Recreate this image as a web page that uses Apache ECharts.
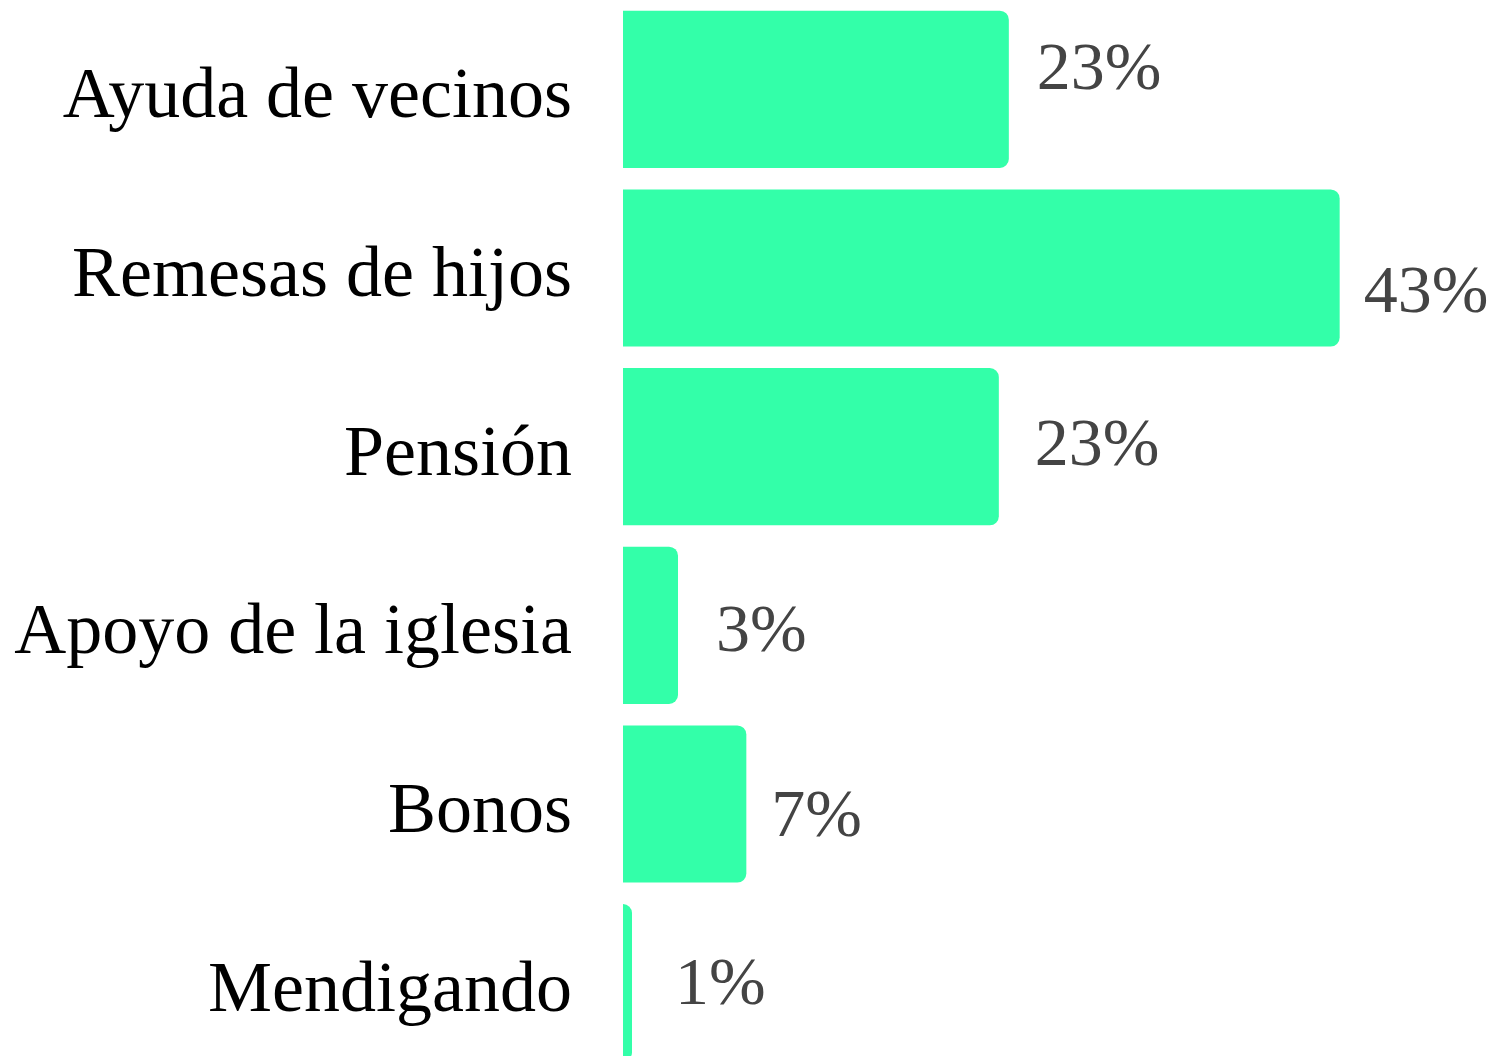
<!DOCTYPE html>
<html>
<head>
<meta charset="utf-8">
<script src="https://cdn.jsdelivr.net/npm/echarts@6/dist/echarts.min.js"></script>
<style>
  html, body { margin: 0; padding: 0; background: #fff; }
  #chart { width: 1499px; height: 1056px; }
</style>
</head>
<body>
<div id="chart"></div>
<script>
// Fuentes de ingreso (porcentaje de respuestas)
const categories = ['Ayuda de vecinos', 'Remesas de hijos', 'Pensión', 'Apoyo de la iglesia', 'Bonos', 'Mendigando'];
const shares = [23.15, 43, 22.55, 3.3, 7.4, 0.54];

// hand-placed nudges for the value labels [dx, dy]
const labelNudge = [[23, -18], [19, 26], [31, 0], [33, 8], [20, 14], [38, 3]];

const chart = echarts.init(document.getElementById('chart'), null, { renderer: 'canvas' });

chart.setOption({
  animation: false,
  backgroundColor: '#ffffff',
  grid: {
    left: 623, top: 0, width: 875, height: 1072,
    containLabel: false,
    outerBoundsMode: 'none'
  },
  xAxis: {
    type: 'value',
    min: 0,
    max: 52.5,
    show: false
  },
  yAxis: {
    type: 'category',
    data: categories,
    inverse: true,
    axisLine: { show: false },
    axisTick: { show: false },
    splitLine: { show: false },
    axisLabel: {
      margin: 51,
      formatter: v => '{cat|' + v + '}',
      rich: {
        cat: {
          color: '#000000',
          fontFamily: 'Liberation Serif',
          fontSize: 72,
          lineHeight: 90,
          verticalAlign: 'bottom'
        }
      }
    }
  },
  series: [{
    type: 'bar',
    data: shares.map((v, i) => ({
      value: v,
      label: { offset: labelNudge[i] }
    })),
    barCategoryGap: '12%',
    itemStyle: { color: '#33ffa9', borderRadius: [0, 9, 9, 0] },
    label: {
      show: true,
      position: 'right',
      distance: 5,
      color: '#444444',
      fontFamily: 'Liberation Serif',
      fontSize: 68,
      formatter: p => Math.round(p.value) + '%'
    }
  }]
});
</script>
</body>
</html>
